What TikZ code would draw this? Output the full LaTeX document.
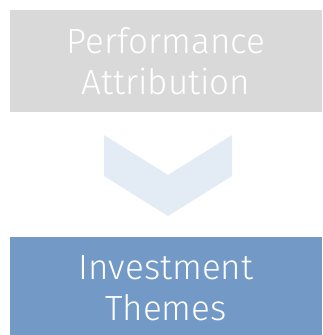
\documentclass[tikz,border=0pt]{standalone}
\usepackage{fontspec}
\setmainfont{Fira Sans Light}
\usetikzlibrary{positioning}
\definecolor{boxgray}{HTML}{D9D9D9}
\definecolor{boxblue}{HTML}{7399C6}
\definecolor{chevblue}{HTML}{E3EBF4}

\begin{document}
\begin{tikzpicture}[x=1pt,y=1pt,
                    box/.style={minimum width=312pt,minimum height=102pt,inner sep=0pt,
                                text=white,align=center,font=\fontsize{35}{41}\selectfont},
                    chevron/.style={fill=chevblue}]
\useasboundingbox (0,0) rectangle (322,335);
\node[box,fill=boxgray] (perf) at (166,274) {Performance\\Attribution};
\node[box,fill=boxblue,below = 125pt of perf] (themes) {Investment\\Themes};
% chevron between the two boxes
\coordinate (tipdown) at (168,119);
\fill[chevron] (104,200) -- (168,160) -- (232,200) -- (232,159) -- (tipdown) -- (104,159) -- cycle;
\end{tikzpicture}
\end{document}
